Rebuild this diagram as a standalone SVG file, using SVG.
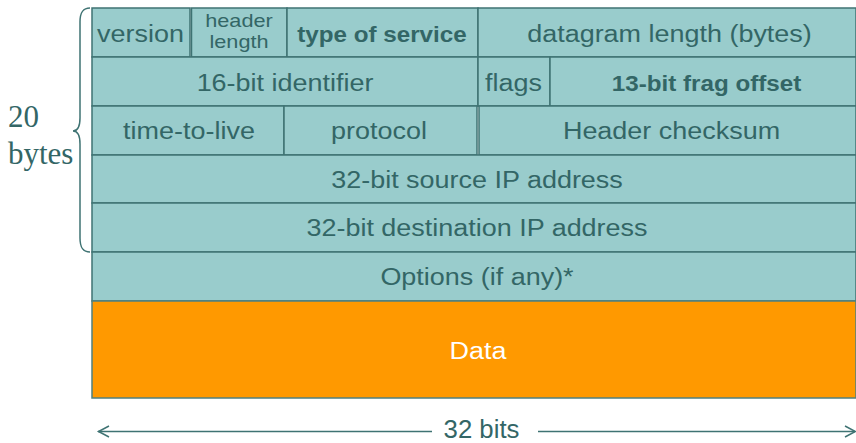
<svg xmlns="http://www.w3.org/2000/svg" width="856" height="443" viewBox="0 0 856 443">
<style>
.cell{fill:#99CCCC;stroke:#3F7373;stroke-width:1.5}
.data{fill:#FF9900;stroke:#4F8080;stroke-width:1.5}
.t{font-family:"Liberation Sans",Arial,sans-serif;font-size:24.5px;fill:#336666;text-anchor:middle}
.b{font-family:"Liberation Sans",Arial,sans-serif;font-size:22px;font-weight:bold;fill:#336666;text-anchor:middle}
.s{font-family:"Liberation Sans",Arial,sans-serif;font-size:17.5px;fill:#336666;text-anchor:middle}
.w{fill:#FFFFFF}
.serif{font-family:"Liberation Serif","Times New Roman",serif;font-size:31px;fill:#336666}
.ln{stroke:#3F7373;stroke-width:1.5;fill:none}
</style>
<rect width="856" height="443" fill="#FFFFFF"/>
<g id="version"><rect class="cell" x="92" y="8" width="98" height="49"/><text class="t" transform="translate(140.5,41.5) scale(1.1,1)">version</text></g>
<g id="header-length"><rect class="cell" x="191.5" y="8" width="95.5" height="49"/><text class="s" transform="translate(239,27) scale(1.24,1)">header</text><text class="s" transform="translate(239,47.5) scale(1.24,1)">length</text></g>
<g id="type-of-service"><rect class="cell" x="287" y="8" width="191" height="49"/><text class="b" transform="translate(382,41.5) scale(1.1,1)">type of service</text></g>
<g id="datagram-length"><rect class="cell" x="478" y="8" width="378" height="49"/><text class="t" transform="translate(669.5,41.5) scale(1.1,1)">datagram length (bytes)</text></g>
<g id="identifier"><rect class="cell" x="92" y="57" width="386" height="49"/><text class="t" transform="translate(285,90.5) scale(1.1,1)">16-bit identifier</text></g>
<g id="flags"><rect class="cell" x="478" y="57" width="72" height="49"/><text class="t" transform="translate(513.5,90.5) scale(1.1,1)">flags</text></g>
<g id="frag-offset"><rect class="cell" x="550" y="57" width="306" height="49"/><text class="b" transform="translate(706.5,90.5) scale(1.1,1)">13-bit frag offset</text></g>
<g id="ttl"><rect class="cell" x="92" y="106" width="192" height="49"/><text class="t" transform="translate(189,139) scale(1.1,1)">time-to-live</text></g>
<g id="protocol"><rect class="cell" x="284" y="106" width="193" height="49"/><text class="t" transform="translate(379,139) scale(1.1,1)">protocol</text></g>
<g id="checksum"><rect class="cell" x="479" y="106" width="377" height="49"/><text class="t" transform="translate(671.5,139) scale(1.1,1)">Header checksum</text></g>
<g id="source"><rect class="cell" x="92" y="155" width="764" height="48"/><text class="t" transform="translate(477,187.5) scale(1.1,1)">32-bit source IP address</text></g>
<g id="destination"><rect class="cell" x="92" y="203" width="764" height="49"/><text class="t" transform="translate(477,236) scale(1.1,1)">32-bit destination IP address</text></g>
<g id="options"><rect class="cell" x="92" y="252" width="764" height="49"/><text class="t" transform="translate(477,285) scale(1.1,1)">Options (if any)*</text></g>
<g id="data"><rect class="data" x="92" y="301" width="764" height="97"/><text class="t w" transform="translate(478,358.5) scale(1.1,1)">Data</text></g>
<g id="bytes-label"><text class="serif" x="8" y="126.5">20</text><text class="serif" x="8" y="163.5">bytes</text></g>
<g id="connectors">
<path class="ln" stroke-width="1.2" d="M90,8 C83,8 80,12 80,22 L80,118 C80,127 77,131 73,131 C77,131 80,135 80,144 L80,238 C80,248 83,252 90,252"/>
<line class="ln" x1="98" y1="431.5" x2="432" y2="431.5"/>
<polyline class="ln" points="109,426 98.5,431.5 109,437"/>
<line class="ln" x1="538" y1="431.5" x2="855" y2="431.5"/>
<polyline class="ln" points="845,426 855.5,431.5 845,437"/>
</g>
<g id="width-label"><text class="t" style="font-size:25px" transform="translate(481.5,437.5) scale(1.03,1)">32 bits</text></g>
</svg>
